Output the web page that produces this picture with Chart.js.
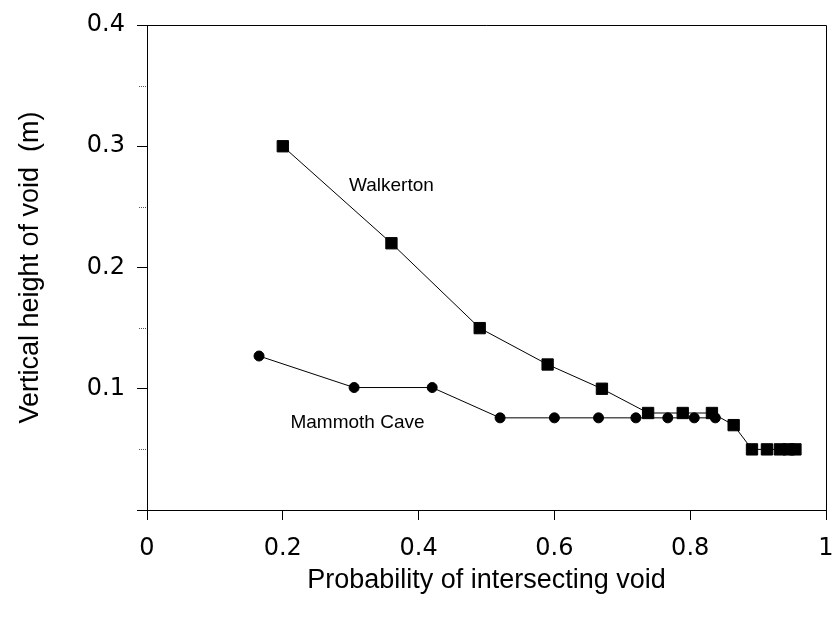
<!DOCTYPE html>
<html>
<head>
<script src="https://cdn.jsdelivr.net/npm/chart.js@4"></script>
<style>
  body { margin: 0; background: #fff; }
  #wrap { width: 835px; height: 623px; }
</style>
</head>
<body>
<div id="wrap"><canvas id="grafico"></canvas></div>
<script>
const walkertonX = [0.2, 0.36, 0.49, 0.59, 0.67, 0.738, 0.789, 0.832, 0.864, 0.891, 0.913, 0.932, 0.945, 0.955];
const walkertonY = [0.30, 0.22, 0.15, 0.12, 0.10, 0.08, 0.08, 0.08, 0.07, 0.05, 0.05, 0.05, 0.05, 0.05];
const mammothX = [0.165, 0.305, 0.42, 0.52, 0.6, 0.665, 0.72, 0.767, 0.806, 0.837];
const mammothY = [0.127, 0.101, 0.101, 0.076, 0.076, 0.076, 0.076, 0.076, 0.076, 0.076];
const minorTicks = [0.05, 0.15, 0.25, 0.35];
const seriesLabels = [
  { text: "Walkerton", x: 0.36, y: 0.267 },
  { text: "Mammoth Cave", x: 0.31, y: 0.072 }
];

function toPoints(xs, ys) {
  return xs.map((x, i) => ({ x: x, y: ys[i] }));
}

const extras = {
  id: "extras",
  afterDraw(chart) {
    const c = chart.ctx;
    const a = chart.chartArea;
    const sx = chart.scales.x;
    const sy = chart.scales.y;
    c.save();
    c.strokeStyle = "#000";
    c.lineWidth = 1;
    c.beginPath();
    c.moveTo(a.left, a.top + 0.5);
    c.lineTo(a.right + 0.5, a.top + 0.5);
    c.lineTo(a.right + 0.5, a.bottom);
    c.stroke();
    c.setLineDash([1, 1]);
    c.strokeStyle = "#555";
    minorTicks.forEach(v => {
      const y = Math.round(sy.getPixelForValue(v)) + 0.5;
      c.beginPath();
      c.moveTo(a.left - 8, y);
      c.lineTo(a.left, y);
      c.stroke();
    });
    c.setLineDash([]);
    c.fillStyle = "#000";
    c.font = "19px 'Liberation Sans', Arial";
    c.textAlign = "center";
    c.textBaseline = "middle";
    seriesLabels.forEach(l => {
      c.fillText(l.text, sx.getPixelForValue(l.x), sy.getPixelForValue(l.y));
    });
    c.restore();
  }
};

new Chart(document.getElementById("grafico"), {
  type: "scatter",
  data: {
    datasets: [
      {
        data: toPoints(walkertonX, walkertonY),
        showLine: true,
        borderColor: "#000",
        borderWidth: 1,
        backgroundColor: "#000",
        pointStyle: "rect",
        pointRadius: 8,
        pointHoverRadius: 8
      },
      {
        data: toPoints(mammothX, mammothY),
        showLine: true,
        borderColor: "#000",
        borderWidth: 1,
        backgroundColor: "#000",
        pointStyle: "circle",
        pointRadius: 5,
        pointHoverRadius: 5
      }
    ]
  },
  options: {
    responsive: true,
    maintainAspectRatio: false,
    animation: false,
    layout: { padding: { top: 25, right: 8, left: 10, bottom: 22 } },
    plugins: { legend: { display: false }, tooltip: { enabled: false } },
    scales: {
      x: {
        min: 0, max: 1,
        afterFit: s => { s.height = 91; s.paddingRight = 0; s.paddingLeft = 0; },
        grid: { drawOnChartArea: false, color: "#000", tickLength: 10 },
        border: { color: "#000" },
        ticks: {
          stepSize: 0.2, color: "#000", padding: 14,
          font: { family: "'DejaVu Sans', Verdana", size: 24 },
          callback: v => +v.toFixed(1)
        },
        title: {
          display: true, text: "Probability of intersecting void", color: "#000",
          font: { family: "'Liberation Sans', Arial", size: 27 }, padding: { top: 4 }
        }
      },
      y: {
        min: 0, max: 0.4,
        afterFit: s => { s.width = 137; s.paddingTop = 0; s.paddingBottom = 0; },
        grid: { drawOnChartArea: false, color: "#000", tickLength: 10 },
        border: { color: "#000" },
        ticks: {
          stepSize: 0.1, color: "#000", padding: 12,
          font: { family: "'DejaVu Sans', Verdana", size: 24 },
          callback: v => v === 0 ? "" : v.toFixed(1)
        },
        title: {
          display: true, text: "Vertical height of void  (m)", color: "#000",
          font: { family: "'Liberation Sans', Arial", size: 27 }, padding: { bottom: 4 }
        }
      }
    }
  },
  plugins: [extras]
});
</script>
</body>
</html>
